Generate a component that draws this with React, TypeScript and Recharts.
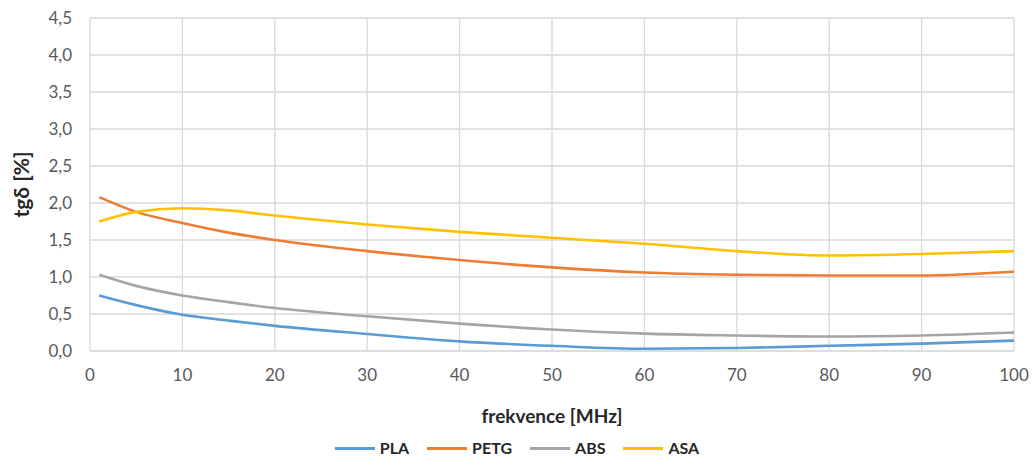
import { LineChart, Line, XAxis, YAxis, CartesianGrid, Legend } from "recharts"

const freq = [1, 5, 10, 15, 20, 30, 40, 50, 60, 70, 80, 90, 100]
const pla = [0.75, 0.62, 0.49, 0.41, 0.34, 0.23, 0.13, 0.07, 0.03, 0.04, 0.07, 0.1, 0.14]
const petg = [2.08, 1.88, 1.73, 1.6, 1.5, 1.35, 1.23, 1.13, 1.06, 1.03, 1.02, 1.02, 1.07]
const abs = [1.03, 0.88, 0.75, 0.66, 0.58, 0.47, 0.37, 0.29, 0.235, 0.21, 0.195, 0.21, 0.25]
const asa = [1.75, 1.88, 1.93, 1.9, 1.83, 1.71, 1.61, 1.53, 1.45, 1.35, 1.29, 1.31, 1.35]

const xTicks = [0, 10, 20, 30, 40, 50, 60, 70, 80, 90, 100]
const yTicks = [0, 0.5, 1, 1.5, 2, 2.5, 3, 3.5, 4, 4.5]

const series = [
  { key: "PLA", color: "#5B9BD5" },
  { key: "PETG", color: "#ED7D31" },
  { key: "ABS", color: "#A5A5A5" },
  { key: "ASA", color: "#FFC000" },
]

const data = freq.map((f, i) => ({ f, PLA: pla[i], PETG: petg[i], ABS: abs[i], ASA: asa[i] }))

const font = "Lato, 'Noto Sans', sans-serif"
const fmt = (v: number) => v.toFixed(1).replace(".", ",")

function LegendBox() {
  return (
    <div style={{ display: "flex", justifyContent: "center", gap: 18, fontFamily: font, fontWeight: 700, fontSize: 16, lineHeight: "18px", color: "#262626" }}>
      {series.map((s) => (
        <div key={s.key} style={{ display: "flex", alignItems: "center", gap: 5 }}>
          <span style={{ display: "inline-block", width: 40, height: 3, background: s.color }} />
          <span>{s.key}</span>
        </div>
      ))}
    </div>
  )
}

export default function App() {
  return (
    <div style={{ position: "absolute", left: 0, top: 0, width: 1032, height: 457, background: "#fff" }}>
      <LineChart width={1032} height={457} data={data} margin={{ top: 18, right: 18, left: 20, bottom: 18 }}>
        <CartesianGrid stroke="#D9D9D9" strokeWidth={1.3} />
        <XAxis
          dataKey="f"
          type="number"
          domain={[0, 100]}
          ticks={xTicks}
          height={70}
          tickLine={false}
          axisLine={{ stroke: "#D9D9D9" }}
          tickMargin={12}
          tick={{ fill: "#595959", fontSize: 17, fontFamily: font }}
          label={{ value: "frekvence [MHz]", position: "insideBottom", offset: -2, fill: "#262626", fontSize: 19, fontWeight: 700, fontFamily: font }}
        />
        <YAxis
          type="number"
          domain={[0, 4.5]}
          ticks={yTicks}
          width={70}
          tickLine={false}
          axisLine={false}
          tickMargin={12}
          tickFormatter={fmt}
          tick={{ fill: "#595959", fontSize: 17, fontFamily: font }}
          label={{ value: "tgδ [%]", angle: -90, position: "insideLeft", offset: 2, fill: "#262626", fontSize: 21, fontWeight: 700, fontFamily: font, style: { textAnchor: "middle" } }}
        />
        <Legend verticalAlign="bottom" wrapperStyle={{ bottom: 0 }} content={() => <LegendBox />} />
        {series.map((s) => (
          <Line key={s.key} type="monotone" dataKey={s.key} stroke={s.color} strokeWidth={2.6} dot={false} isAnimationActive={false} />
        ))}
      </LineChart>
    </div>
  )
}
